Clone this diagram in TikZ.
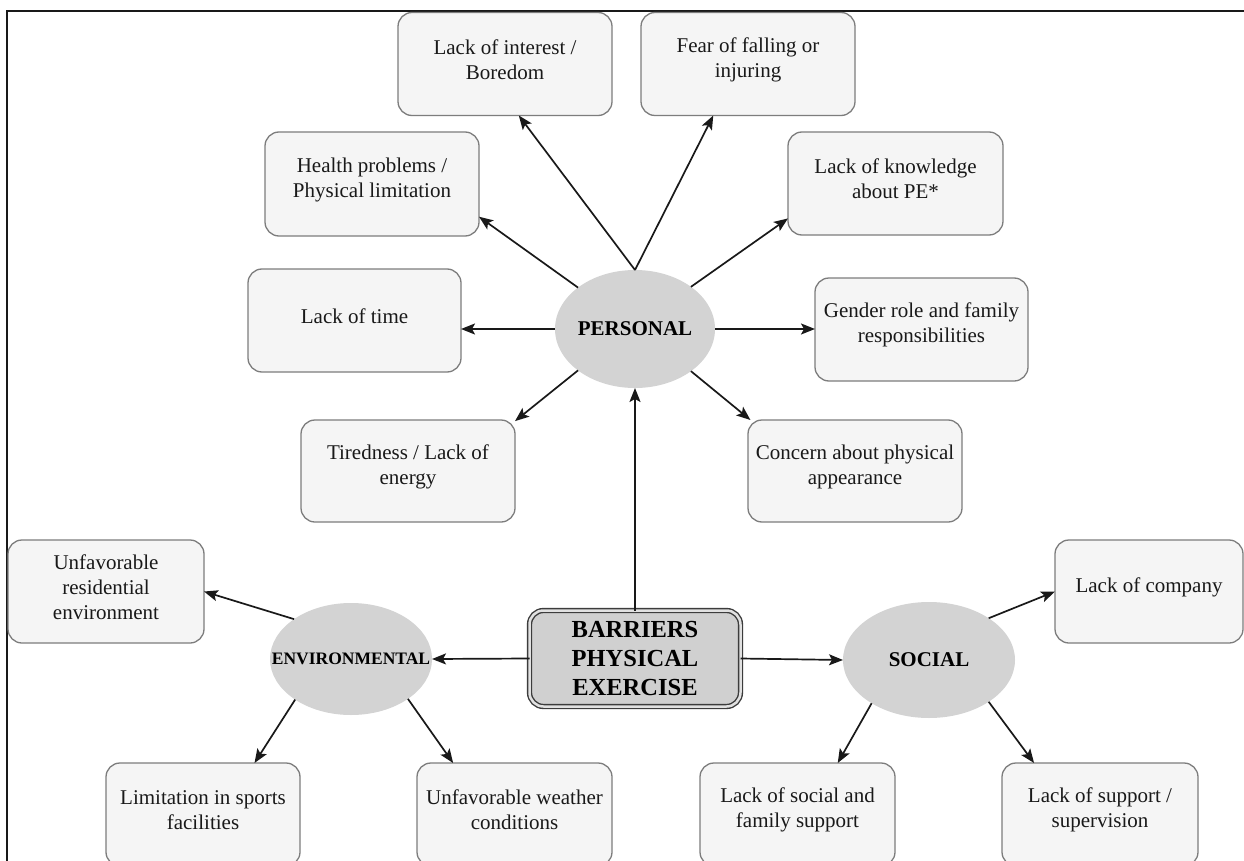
\documentclass[tikz,border=0pt]{standalone}
\usepackage{fontspec}
\setmainfont{Liberation Serif}
\usetikzlibrary{arrows.meta,shapes.geometric}
\definecolor{boxfill}{RGB}{245,245,245}
\definecolor{boxline}{RGB}{125,125,125}
\definecolor{ellfill}{RGB}{211,211,211}
\definecolor{ink}{RGB}{25,25,25}
\definecolor{barfill}{RGB}{208,208,208}
\definecolor{barline}{RGB}{60,60,60}
\definecolor{bargap}{RGB}{225,225,225}
\newcommand\bxnode[4]{\node[box,#2,label={[btext,yshift=4.5pt]center:{#4}}] (#1) at #3 {};}
\begin{document}
\begin{tikzpicture}[x=1pt,y=-1pt,
  box/.style={draw=boxline, fill=boxfill, line width=1.3pt, rounded corners=14pt,
    minimum width=214pt, minimum height=103pt, inner sep=0pt, outer sep=0pt},
  btext/.style={font=\fontsize{21}{25}\selectfont, text=ink, align=center},
  ell/.style={ellipse, fill=ellfill, draw=none, inner sep=0pt, outer sep=0pt},
  etext/.style={font=\bfseries\fontsize{21}{25}\selectfont, text=black},
  arr/.style={-{Stealth[length=14pt,width=11pt,inset=3pt]}, draw=ink, line width=1.7pt}]
\useasboundingbox (0,0) rectangle (1244,861);
\clip (0,0) rectangle (1244,861);
\fill[white] (0,0) rectangle (1244,861);
\draw[ink, line width=2pt] (7,861) -- (7,11) -- (1244,11);

% personal boxes
\bxnode{interest}{}{(505,64)}{Lack of interest /\\Boredom}
\bxnode{fear}{}{(748,64)}{Fear of falling or\\injuring}
\bxnode{health}{minimum height=104pt}{(372,184)}{Health problems /\\Physical limitation}
\bxnode{knowledge}{minimum width=215pt}{(895.5,183.5)}{Lack of knowledge\\about PE*}
\bxnode{time}{minimum width=213pt}{(354.5,320.5)}{Lack of time}
\bxnode{gender}{minimum width=213pt}{(921.5,329.5)}{Gender role and family\\responsibilities}
\bxnode{tired}{minimum height=102pt}{(408,471)}{Tiredness / Lack of\\energy}
\bxnode{concern}{minimum height=102pt}{(855,471)}{Concern about physical\\appearance}
% social / environmental boxes
\bxnode{company}{minimum width=188pt}{(1149,591.5)}{Lack of company}
\bxnode{residential}{minimum width=196pt}{(106,591.5)}{Unfavorable\\residential\\environment}
\bxnode{limitation}{minimum width=194pt}{(203,814.5)}{Limitation in sports\\facilities}
\bxnode{weather}{minimum width=195pt}{(514.5,814.5)}{Unfavorable weather\\conditions}
\bxnode{socialsupport}{minimum width=195pt}{(797.5,814.5)}{Lack of social and\\family support}
\bxnode{support}{minimum width=196pt}{(1100,814.5)}{Lack of support /\\supervision}

% ellipses
\node[ell, minimum width=160pt, minimum height=118pt,
  label={[etext]center:PERSONAL}] (personal) at (635,329) {};
\node[ell, minimum width=162pt, minimum height=112pt,
  label={[etext,font=\bfseries\fontsize{17.5}{20}\selectfont]center:ENVIRONMENTAL}] (env) at (351,659) {};
\node[ell, minimum width=172pt, minimum height=116pt,
  label={[etext]center:SOCIAL}] (social) at (929,660) {};

% central box
\node[draw=barline, double=bargap, double distance=2.5pt, line width=1.4pt,
  fill=barfill, rounded corners=14pt, minimum width=211pt, minimum height=96pt,
  inner sep=0pt, outer sep=0pt, align=center, text=black,
  font=\bfseries\fontsize{24.5}{29}\selectfont] (barriers) at (635,658.5)
  {BARRIERS\\PHYSICAL\\EXERCISE};

% connectors
\draw[arr] (personal.north) -- (interest.-75);
\draw[arr] (personal.north) -- (fear.-124.5);
\draw[arr] (personal.144) -- (health.-17);
\draw[arr] (personal.37.7) -- (knowledge.-162.5);
\draw[arr] (personal.west) -- (personal.west -| time.east);
\draw[arr] (personal.east) -- (personal.east -| gender.west);
\draw[arr] (personal.216.6) -- (tired.25.3);
\draw[arr] (personal.-37) -- (concern.154.9);
\draw[arr] (barriers.north) -- (personal.south);
\draw[arr] (barriers.west) -- (env.east);
\draw[arr] (barriers.east) -- (social.west);
\draw[arr] (env.145.5) -- (residential.east);
\draw[arr] (env.216) -- (limitation.45);
\draw[arr] (env.-35) -- (weather.140.3);
\draw[arr] (social.35.6) -- (company.west);
\draw[arr] (social.217.5) -- (socialsupport.52.9);
\draw[arr] (social.-35.6) -- (support.142.6);
\end{tikzpicture}
\end{document}
